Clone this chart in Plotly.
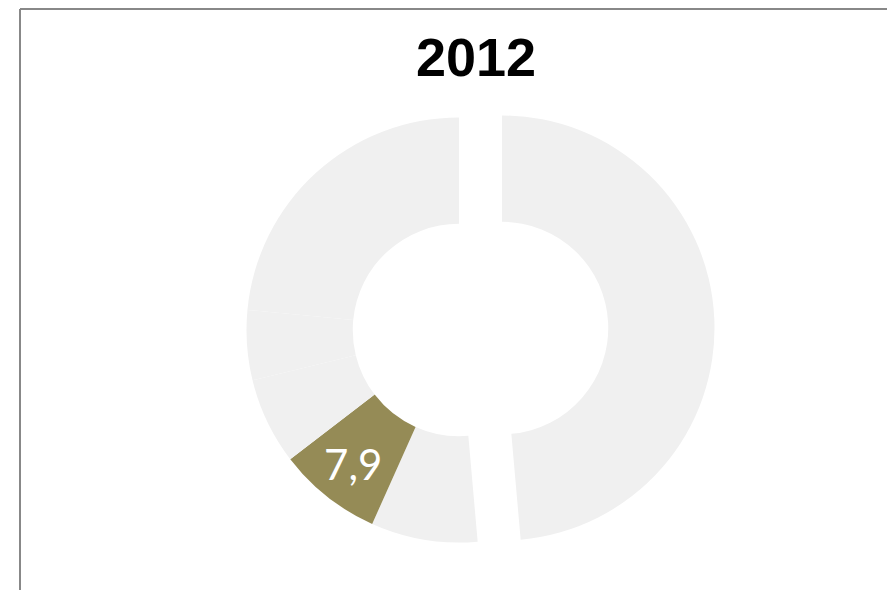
import plotly.graph_objects as go

OFF = 8  # page body margin
W, H = 895 - OFF, 590 - OFF

# slices clockwise from 12 o'clock
SLICE_NAMES  = ["A", "B", "C", "D", "E", "F"]
SLICE_VALUES = [48.6, 8.1, 7.9, 6.6, 5.3, 23.5]
SLICE_TEXT   = ["", "", "7,9", "", "", ""]
HIGHLIGHT    = "C"
TITLE        = "2012"

GREY  = "#f0f0f0"
OLIVE = "#958b56"
CLEAR = "rgba(0,0,0,0)"


def px(x):
    return (x - OFF) / W


def py(y):
    return 1 - (y - OFF) / H


def domain(cx, cy, r):
    return dict(x=[px(cx - r), px(cx + r)], y=[py(cy + r), py(cy - r)])


# right half is pulled right, left group pulled left -> two pies
right_colors = [GREY if i == 0 else CLEAR for i in range(len(SLICE_NAMES))]
left_colors = [
    CLEAR if i == 0 else (OLIVE if n == HIGHLIGHT else GREY)
    for i, n in enumerate(SLICE_NAMES)
]

fig = go.Figure()
for colors, texts, dom in [
    (right_colors, [""] * len(SLICE_NAMES), domain(502, 328, 212.5)),
    (left_colors,  SLICE_TEXT,              domain(459, 330, 212.5)),
]:
    fig.add_trace(go.Pie(
        labels       = SLICE_NAMES,
        values       = SLICE_VALUES,
        text         = texts,
        textinfo     = "text",
        textposition = "inside",
        insidetextorientation = "horizontal",
        textfont     = dict(family="Lato", size=42, color="white"),
        hole         = 0.5,
        sort         = False,
        direction    = "clockwise",
        rotation     = 0,
        marker       = dict(colors=colors, line=dict(width=0)),
        domain       = dom,
        hoverinfo    = "none",
    ))

fig.add_annotation(
    text="<b>" + TITLE + "</b>",
    x=px(476), y=py(57), xref="paper", yref="paper",
    xanchor="center", yanchor="middle", showarrow=False,
    font=dict(family="Liberation Sans", size=54, color="black"),
)

# frame: top edge sits at the very top of the figure
fig.add_shape(type="line", xref="paper", yref="paper",
              x0=px(20), y0=py(9), x1=1.05, y1=py(9),
              line=dict(color="#888888", width=2))
fig.add_shape(type="line", xref="paper", yref="paper",
              x0=px(20), y0=py(9), x1=px(20), y1=-0.05,
              line=dict(color="#888888", width=2))

fig.update_layout(
    width         = W,
    height        = H,
    showlegend    = False,
    margin        = dict(l=0, r=0, t=0, b=0),
    paper_bgcolor = "white",
    plot_bgcolor  = "white",
)

fig.write_html("out.html")
